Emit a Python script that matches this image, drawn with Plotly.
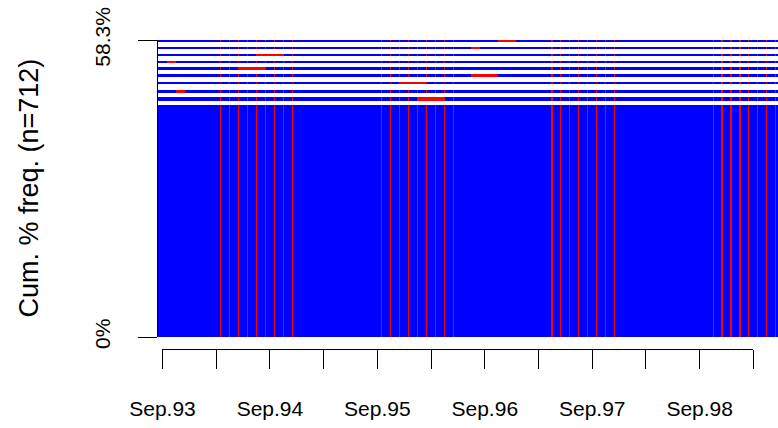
import plotly.graph_objects as go

# ---- data -------------------------------------------------------------
# months are indexed from Sep.93 = 0
n_months = 70
tick_months = [0, 6, 12, 18, 24, 30, 36, 42, 48, 54, 60, 66]
tick_labels = ["Sep.93", "", "Sep.94", "", "Sep.95", "", "Sep.96", "", "Sep.97", "", "Sep.98", ""]

# bands of cumulative % frequency (bottom to top)
band_bottom = [0.0, 46.4, 47.9, 49.6, 51.0, 52.4, 53.8, 55.15, 56.5, 57.9]
band_top = [45.6, 47.2, 48.5, 50.1, 51.6, 53.0, 54.2, 55.55, 57.0, 58.3]
# months shown red inside each band
band_red_months = [
    [],
    [29, 30, 31],
    [2],
    [27, 28, 29],
    [35, 36, 37],
    [9, 10, 11],
    [1],
    [11, 12, 13],
    [35],
    [38, 39],
]
# month boundaries carrying a thin red column through all bands
red_boundaries = [6.5, 7.5, 8.5, 9.5, 10.5, 11.5, 12.5, 13.5, 14.5,
                  24.5, 25.5, 26.5, 27.5, 28.5, 29.5, 30.5, 31.5, 32.5,
                  43.5, 44.5, 45.5, 46.5, 47.5, 48.5, 49.5, 50.5,
                  61.5, 62.5, 63.5, 64.5, 65.5, 66.5, 67.5, 68.5]

y_tick_vals = [0, 58.3]
y_tick_labels = ["0%", "58.3%"]
y_title = "Cum. % freq. (n=712)"

# ---- build heatmap grid ----------------------------------------------
thin_w = 0.13
edges = set(m - 0.5 for m in range(n_months + 1))
for b in red_boundaries:
    edges.add(b - thin_w / 2)
    edges.add(b + thin_w / 2)
x_edges = sorted(edges)

col_kind = []  # ('thin', None) or ('cell', m)
for a, b in zip(x_edges[:-1], x_edges[1:]):
    mid = (a + b) / 2
    if any(abs(mid - rb) < thin_w / 2 + 1e-9 for rb in red_boundaries):
        col_kind.append(("thin", None))
    else:
        col_kind.append(("cell", round(mid)))

z = []
y_edges = [band_bottom[0], band_top[0]]
for i, (lo, hi) in enumerate(zip(band_bottom, band_top)):
    if i > 0:
        z.append([None] * len(col_kind))  # white gap below the band
        y_edges += [lo, hi]
    row = []
    for kind, m in col_kind:
        if kind == "thin" or m in band_red_months[i]:
            row.append(2)
        else:
            row.append(1)
    z.append(row)

# ---- figure -----------------------------------------------------------
W, H = 778, 428
ml, mr, mt, mb = 158, 0, 40, 79
plot_w = W - ml - mr
plot_h = H - mt - mb
x_range = [-0.5, 68.75]
gap_px = 12  # offset of R-style x axis below the image
y_dom0 = gap_px / plot_h

span = x_range[1] - x_range[0]
x2_dom = [(tick_months[0] - x_range[0]) / span,
          (tick_months[-1] - x_range[0]) / span]

font_family = "Liberation Sans, Arial, Helvetica, sans-serif"

fig = go.Figure()
fig.add_trace(go.Heatmap(
    x=x_edges, y=y_edges, z=z,
    zmin=1, zmax=2,
    colorscale=[[0, "#0000FF"], [0.5, "#0000FF"], [0.5, "#FF0000"], [1, "#FF0000"]],
    showscale=False, hoverinfo="skip", xgap=0, ygap=0,
))
# carrier for the R-style time axis
fig.add_trace(go.Scatter(x=[tick_months[0], tick_months[-1]], y=[None, None],
                         xaxis="x2", yaxis="y", mode="lines", showlegend=False,
                         hoverinfo="skip"))

fig.update_layout(
    width=W, height=H,
    margin=dict(l=ml, r=mr, t=mt, b=mb, pad=0),
    paper_bgcolor="white", plot_bgcolor="rgba(0,0,0,0)",
    font=dict(family=font_family, color="black"),
    showlegend=False,
    xaxis=dict(range=x_range, visible=False, domain=[0, 1], automargin=False),
    xaxis2=dict(
        range=[tick_months[0], tick_months[-1]], domain=x2_dom,
        anchor="free", position=0, side="bottom",
        tickmode="array", tickvals=tick_months, ticktext=tick_labels,
        ticks="outside", ticklen=19, tickwidth=1.3, tickcolor="black",
        showline=True, linecolor="black", linewidth=1.3,
        showgrid=False, zeroline=False, automargin=False,
        tickfont=dict(size=21, family=font_family, color="black"),
        ticklabelstandoff=22,
    ),
    yaxis=dict(
        range=[0, 58.3], domain=[y_dom0, 1],
        tickmode="array", tickvals=y_tick_vals, ticktext=y_tick_labels,
        ticks="outside", ticklen=19, tickwidth=1.3, tickcolor="black",
        showline=True, linecolor="black", linewidth=1.3,
        showgrid=False, zeroline=False, tickangle=-90, automargin=False,
        tickfont=dict(size=21, family=font_family, color="black"),
        ticklabelstandoff=19,
    ),
    annotations=[dict(
        text=y_title, textangle=-90, showarrow=False,
        xref="paper", yref="paper",
        x=(28 - ml) / plot_w, y=(H - mb - (mt + (H - mb - gap_px - mt) / 2)) / plot_h,
        xanchor="center", yanchor="middle",
        font=dict(size=27, family=font_family, color="black"),
    )],
)

fig.write_html("out.html", config={"displayModeBar": False},
               post_script="document.body.style.margin='0';")
